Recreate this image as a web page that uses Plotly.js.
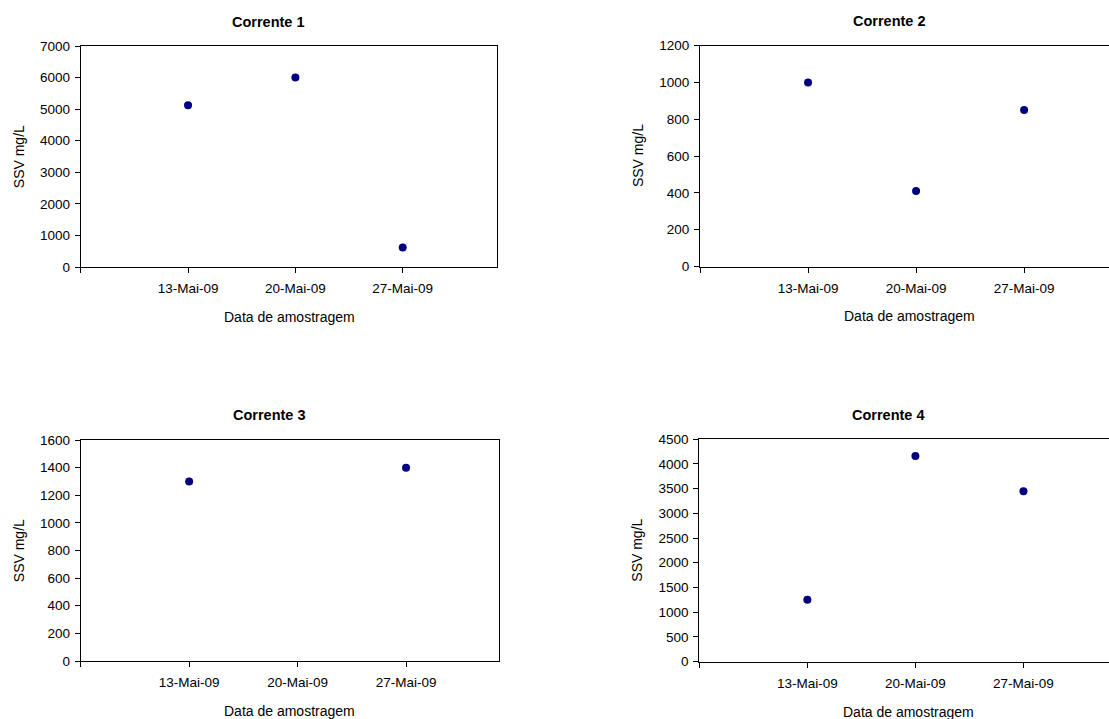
<!DOCTYPE html>
<html>
<head>
<meta charset="utf-8">
<script src="https://cdn.plot.ly/plotly-3.0.1.min.js"></script>
<style>html,body{margin:0;padding:0;background:#fff;}#chart{width:1109px;height:719px;}</style>
</head>
<body>
<div id="chart"></div>
<script>
// ---- data ----
const dates = ['2009-05-13', '2009-05-20', '2009-05-27'];
const tickDates = ['2009-05-06', '2009-05-13', '2009-05-20', '2009-05-27'];
const tickLabels = ['', '13-Mai-09', '20-Mai-09', '27-Mai-09'];
const titles = ['Corrente 1', 'Corrente 2', 'Corrente 3', 'Corrente 4'];
const corrente1 = [5120, 6000, 620];
const corrente2 = [1000, 410, 850];
const corrente3 = [1300, null, 1400];
const corrente4 = [1250, 4160, 3450];
const yMax = [7000, 1200, 1600, 4500];
const yStep = [1000, 200, 200, 500];
const xTitle = 'Data de amostragem';
const yTitle = 'SSV mg/L';

// ---- layout geometry ----
const W = 1109, H = 719;
const FONT = 'Arial, "Liberation Sans", sans-serif';
const series = [corrente1, corrente2, corrente3, corrente4];
const panels = [
  {l: 80.7, r: 497.3, t: 46, b: 267, xEnd: '2009-06-02 04:00', mirrorY: true, titleX: 268, titleY: 22},
  {l: 700, r: 1109, t: 45.7, b: 266.5, xEnd: '2009-06-01 12:00', mirrorY: false, titleX: 889, titleY: 21},
  {l: 80.7, r: 499, t: 440, b: 661, xEnd: '2009-06-02 00:00', mirrorY: true, titleX: 269, titleY: 415},
  {l: 699.3, r: 1109, t: 439.3, b: 661.5, xEnd: '2009-06-01 13:00', mirrorY: false, titleX: 888, titleY: 415}
];

const traces = [];
const layout = {
  width: W, height: H,
  margin: {l: 0, r: 0, t: 0, b: 0},
  paper_bgcolor: '#ffffff', plot_bgcolor: '#ffffff',
  showlegend: false,
  font: {family: FONT, size: 13, color: '#000'},
  annotations: []
};

panels.forEach((p, i) => {
  const n = i + 1;
  const xa = 'xaxis' + (n === 1 ? '' : n);
  const ya = 'yaxis' + (n === 1 ? '' : n);
  traces.push({
    type: 'scatter', mode: 'markers',
    x: dates, y: series[i],
    xaxis: 'x' + (n === 1 ? '' : n), yaxis: 'y' + (n === 1 ? '' : n),
    marker: {color: '#000080', size: 8},
    hoverinfo: 'x+y'
  });
  layout[xa] = {
    type: 'date',
    domain: [p.l / W, p.r / W],
    anchor: 'y' + (n === 1 ? '' : n),
    range: ['2009-05-06', p.xEnd],
    tickmode: 'array', tickvals: tickDates, ticktext: tickLabels,
    ticks: 'outside', ticklen: 5, tickcolor: '#000', tickwidth: 1,
    showline: true, linecolor: '#000', linewidth: 1, mirror: true,
    showgrid: false, zeroline: false,
    tickfont: {family: FONT, size: 13.5, color: '#000'},
    ticklabelstandoff: 4,
    fixedrange: true
  };
  const tv = [];
  for (let v = 0; v <= yMax[i]; v += yStep[i]) tv.push(v);
  layout[ya] = {
    domain: [1 - p.b / H, 1 - p.t / H],
    anchor: 'x' + (n === 1 ? '' : n),
    range: [0, yMax[i]],
    tickmode: 'array', tickvals: tv,
    ticks: 'outside', ticklen: 5, tickcolor: '#000', tickwidth: 1,
    showline: true, linecolor: '#000', linewidth: 1, mirror: p.mirrorY,
    showgrid: false, zeroline: false,
    tickfont: {family: FONT, size: 13.5, color: '#000'},
    ticklabelstandoff: 2,
    fixedrange: true
  };
  // chart title
  layout.annotations.push({
    text: '<b>' + titles[i] + '</b>', xref: 'paper', yref: 'paper',
    x: p.titleX / W, y: 1 - p.titleY / H, xanchor: 'center', yanchor: 'middle',
    showarrow: false, font: {family: FONT, size: 14.5, color: '#000'}
  });
  // x axis title
  const cx = (p.l + (i % 2 === 1 ? p.l + 418 : p.r)) / 2;
  layout.annotations.push({
    text: xTitle, xref: 'paper', yref: 'paper',
    x: cx / W, y: 1 - (p.b + 50) / H, xanchor: 'center', yanchor: 'middle',
    showarrow: false, font: {family: FONT, size: 14, color: '#000'}
  });
  // y axis title
  layout.annotations.push({
    text: yTitle, xref: 'paper', yref: 'paper', textangle: -90,
    x: (p.l - 62) / W, y: 1 - ((p.t + p.b) / 2) / H, xanchor: 'center', yanchor: 'middle',
    showarrow: false, font: {family: FONT, size: 14, color: '#000'}
  });
});

Plotly.newPlot('chart', traces, layout, {displayModeBar: false, staticPlot: true});
</script>
</body>
</html>
